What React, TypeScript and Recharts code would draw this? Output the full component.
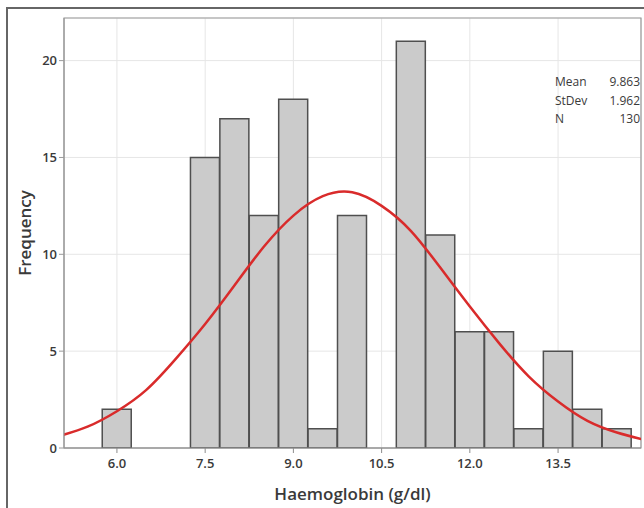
import React from 'react';
import {
  Bar,
  CartesianGrid,
  ComposedChart,
  Line,
  ReferenceArea,
  XAxis,
  YAxis,
} from 'recharts';

// histogram bins (centre of each 0.5 g/dl bin) and their counts
const binCenters = [6.0, 6.5, 7.0, 7.5, 8.0, 8.5, 9.0, 9.5, 10.0, 10.5, 11.0, 11.5, 12.0, 12.5, 13.0, 13.5, 14.0, 14.5];
const binCounts = [2, 0, 0, 15, 17, 12, 18, 1, 12, 0, 21, 11, 6, 6, 1, 5, 2, 1];

// fitted normal curve
const curveX = [5.0, 5.5, 6.0, 6.5, 7.0, 7.5, 8.0, 8.5, 9.0, 9.5, 10.0, 10.5, 11.0, 11.5, 12.0, 12.5, 13.0, 13.5, 14.0, 14.5, 15.0];
const curveY = [0.6, 1.1, 1.9, 3.0, 4.6, 6.4, 8.4, 10.4, 12.0, 13.0, 13.2, 12.5, 11.2, 9.3, 7.3, 5.4, 3.7, 2.4, 1.4, 0.8, 0.4];

const xTicks = [6.0, 7.5, 9.0, 10.5, 12.0, 13.5];
const yTicks = [0, 5, 10, 15, 20];
const xDomain = [5.1, 14.91];
const yDomain = [0, 22.2];

const statLabels = ['Mean', 'StDev', 'N'];
const statValues = ['9.863', '1.962', '130'];

const rows = curveX.map((x, k) => {
  const i = binCenters.indexOf(x);
  return {
    x,
    count: i >= 0 ? binCounts[i] : null,
    fit: curveY[k],
  };
});

const font = '"Open Sans", "Noto Sans", sans-serif';
const tickStyle = { fontSize: 13, fontWeight: 600, fill: '#3a3a3a', fontFamily: font };
const titleStyle = { fontSize: 17, fontWeight: 600, fill: '#3a3a3a', fontFamily: font };
const frameLine = { position: 'absolute' as const, background: '#666', zIndex: 2 };

export default function App() {
  return (
    <div
      style={{
        position: 'fixed',
        left: 0,
        top: 0,
        width: 644,
        height: 508,
        background: '#fff',
        overflow: 'hidden',
        fontFamily: font,
      }}
    >
      <div style={{ ...frameLine, left: 6, top: 7, width: 638, height: 1.5 }} />
      <div style={{ ...frameLine, left: 6, top: 7, width: 1.5, height: 501 }} />
      <div style={{ position: 'absolute', left: 0, top: 0 }}>
        <ComposedChart
          width={644}
          height={508}
          data={rows}
          margin={{ top: 18, right: 3, bottom: 0, left: 6 }}
          barCategoryGap={0}
          barGap={0}
        >
          <CartesianGrid stroke='#e6e6e6' strokeWidth={1} />
          <XAxis
            dataKey='x'
            type='number'
            domain={xDomain}
            allowDataOverflow
            ticks={xTicks}
            tickFormatter={(v: number) => v.toFixed(1)}
            tick={tickStyle}
            tickSize={5}
            tickMargin={6}
            stroke='#8c8c8c'
            height={60}
            label={{
              value: 'Haemoglobin (g/dl)',
              position: 'insideBottom',
              offset: 8,
              style: titleStyle,
            }}
          />
          <YAxis
            type='number'
            domain={yDomain}
            allowDataOverflow
            ticks={yTicks}
            tick={tickStyle}
            tickSize={5}
            tickMargin={2}
            stroke='#9a9a9a'
            width={58}
            label={{
              value: 'Frequency',
              angle: -90,
              position: 'insideLeft',
              offset: 19,
              style: { ...titleStyle, textAnchor: 'middle' },
            }}
          />
          <ReferenceArea
            x1={xDomain[0]}
            x2={xDomain[1]}
            y1={yDomain[0]}
            y2={yDomain[1]}
            fill='none'
            stroke='#9a9a9a'
            strokeWidth={1.2}
          />
          <Bar
            dataKey='count'
            fill='#cbcbcb'
            stroke='#4f4f4f'
            strokeWidth={1.5}
            isAnimationActive={false}
          />
          <Line
            dataKey='fit'
            type='natural'
            stroke='#d92b2b'
            strokeWidth={2.5}
            dot={false}
            isAnimationActive={false}
          />
        </ComposedChart>
      </div>
      <div
        style={{
          position: 'absolute',
          left: 555,
          top: 73,
          width: 85,
          fontSize: 12,
          lineHeight: '18.5px',
          color: '#3a3a3a',
        }}
      >
        {statLabels.map((label, i) => (
          <div key={label} style={{ display: 'flex', justifyContent: 'space-between' }}>
            <span>{label}</span>
            <span>{statValues[i]}</span>
          </div>
        ))}
      </div>
    </div>
  );
}
